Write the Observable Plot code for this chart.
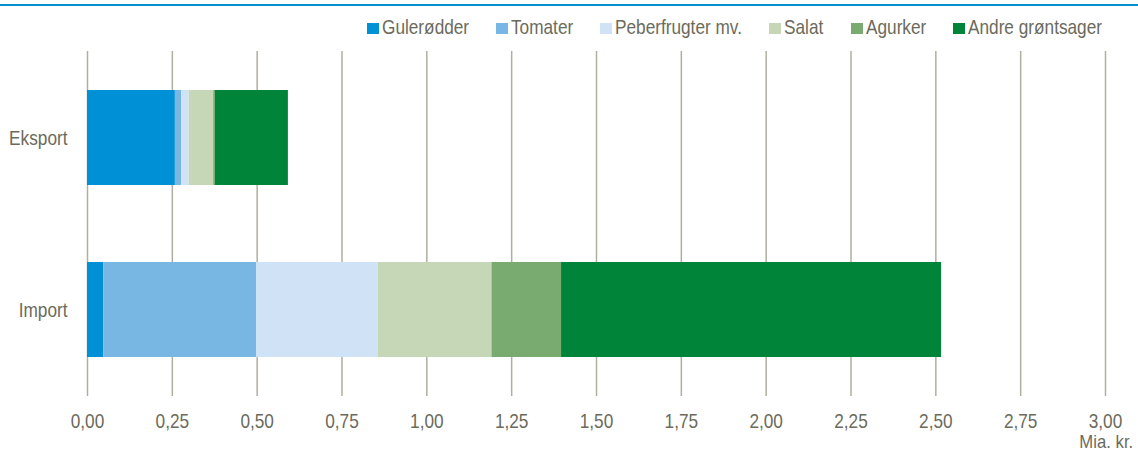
<!DOCTYPE html>
<html>
<head>
<meta charset="utf-8">
<script src="https://cdn.jsdelivr.net/npm/d3@7"></script>
<script src="https://cdn.jsdelivr.net/npm/@observablehq/plot@0.6"></script>
<style>
  html, body { margin: 0; padding: 0; background: #fff; }
  body { width: 1138px; height: 452px; position: relative; overflow: hidden;
         font-family: "Liberation Sans", Arial, sans-serif; color: #6b6b5c; }
  #topline { position: absolute; left: 0; top: 4px; width: 1138px; height: 2px; background: #0090d0; }
  #legend { position: absolute; top: 16px; right: 36px; display: flex; font-size: 21px; line-height: 22px; white-space: nowrap; }
  #legend .item { display: flex; align-items: center; margin-left: 27px; }
  #legend .sw { width: 12px; height: 11px; margin-right: 3px; margin-top: 2px; flex: none; }
  #legend .lbl { display: inline-block; overflow: visible; }
  #legend .lbl span { display: inline-block; transform-origin: left center; }
  #unit { position: absolute; right: 5px; top: 434px; font-size: 19px; line-height: 15px; white-space: nowrap;
          transform: scaleX(0.88); transform-origin: right center; }
  #chart { position: absolute; left: 0; top: 0; }
</style>
</head>
<body>
<div id="topline"></div>
<div id="legend"></div>
<div id="chart"></div>
<div id="unit"></div>
<script>
const flows = ["Eksport", "Import"];
const categories = ["Gulerødder", "Tomater", "Peberfrugter mv.", "Salat", "Agurker", "Andre grøntsager"];
const colors = ["#0090d5", "#78b6e4", "#d0e3f6", "#c6d7b8", "#79aa70", "#00843a"];
const eksport = [0.259, 0.018, 0.023, 0.072, 0.005, 0.215];
const importV = [0.048, 0.450, 0.359, 0.335, 0.205, 1.120];
const xTicks = [0, 0.25, 0.5, 0.75, 1, 1.25, 1.5, 1.75, 2, 2.25, 2.5, 2.75, 3];
const unitLabel = "Mia. kr.";

const squeeze = 0.82;
const data = [];
categories.forEach((c, i) => {
  data.push({flow: flows[0], cat: c, value: eksport[i]});
  data.push({flow: flows[1], cat: c, value: importV[i]});
});

const fmt = d => d.toFixed(2).replace(".", ",");
const textColor = "#6b6b5c";

const chart = Plot.plot({
  width: 1138,
  height: 452,
  marginLeft: 87,
  marginRight: 33,
  marginTop: 51,
  marginBottom: 56,
  style: {fontFamily: '"Liberation Sans", Arial, sans-serif', fontSize: "21px", color: textColor, background: "transparent"},
  x: {domain: [0, 3], ticks: xTicks, tickFormat: fmt, tickSize: 0, tickPadding: 17, label: null},
  y: {domain: flows, paddingInner: 0.448, paddingOuter: 0.224, tickSize: 0, tickPadding: 20, label: null},
  color: {domain: categories, range: colors},
  marks: [
    Plot.ruleX(xTicks, {stroke: "#b0ae9f", strokeWidth: 1.5}),
    Plot.barX(data, Plot.stackX({x: "value", y: "flow", fill: "cat", order: categories})),
    Plot.axisX({ticks: xTicks, tickFormat: fmt, tickSize: 0, tickPadding: 17, fill: textColor, label: null}),
    Plot.axisY({tickSize: 0, tickPadding: 20, fill: textColor, label: null})
  ]
});
document.getElementById("chart").appendChild(chart);
document.getElementById("unit").textContent = unitLabel;

// condense all chart texts horizontally (narrow font look)
chart.querySelectorAll("text").forEach(t => {
  const w = t.getComputedTextLength();
  if (w > 0) {
    t.setAttribute("textLength", (w * squeeze).toFixed(2));
    t.setAttribute("lengthAdjust", "spacingAndGlyphs");
  }
});

const legend = document.getElementById("legend");
categories.forEach((c, i) => {
  const item = document.createElement("div");
  item.className = "item";
  const sw = document.createElement("span");
  sw.className = "sw";
  sw.style.background = colors[i];
  const lbl = document.createElement("span");
  lbl.className = "lbl";
  const t = document.createElement("span");
  t.textContent = c;
  lbl.appendChild(t);
  item.appendChild(sw);
  item.appendChild(lbl);
  legend.appendChild(item);
  const w = t.getBoundingClientRect().width;
  lbl.style.width = (w * squeeze).toFixed(2) + "px";
  t.style.transform = `scaleX(${squeeze})`;
});
</script>
</body>
</html>
